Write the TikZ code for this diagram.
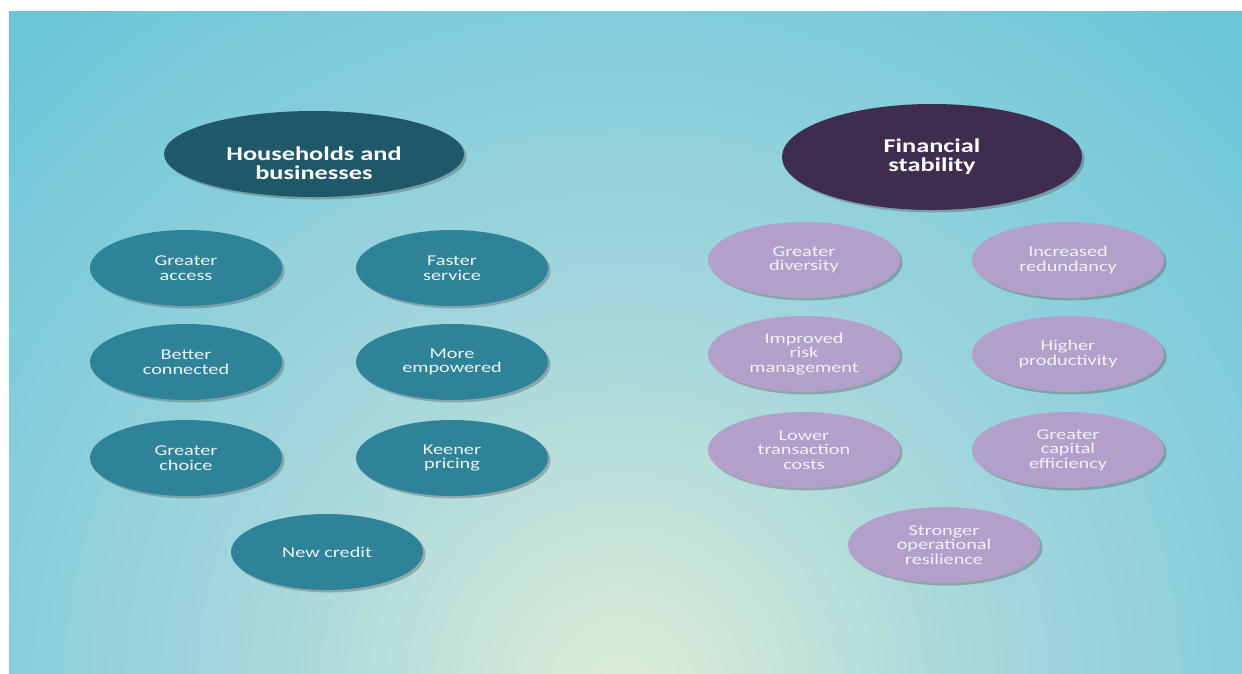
\documentclass[tikz,border=0pt]{standalone}
\usepackage{fontspec}
\setmainfont{Carlito}[FakeStretch=1.35]
\usetikzlibrary{shapes.geometric,shadows}
\definecolor{bgpale}{HTML}{DCEDD6}
\definecolor{bgmid}{HTML}{A6D7DC}
\definecolor{bgcyan}{HTML}{6BC6D9}
\definecolor{darkteal}{HTML}{1F5868}
\definecolor{darkplum}{HTML}{3F2D4F}
\definecolor{teal}{HTML}{2E8399}
\definecolor{lilac}{HTML}{B29FCA}
\definecolor{labelwhite}{HTML}{EEF4F5}
\pgfdeclareradialshading{bgshade}{\pgfpoint{0bp}{0bp}}{color(0bp)=(bgpale); color(9bp)=(bgmid); color(22bp)=(bgcyan); color(50bp)=(bgcyan)}
\tikzset{
  oval/.style={ellipse, inner sep=0pt, align=center,
    drop shadow={shadow xshift=2.5pt, shadow yshift=-2.5pt, opacity=0.35, fill=black!70}},
  titlefont/.style={font=\bfseries\fontsize{19.5}{19}\selectfont, text=white, align=center},
  titleoval/.style={oval, minimum width=300pt, titlefont},
  smalloval/.style={oval, minimum width=192pt, minimum height=76pt, font=\fontsize{15}{14.5}\selectfont, text=labelwhite},
  tealoval/.style={smalloval, fill=teal},
  lilacoval/.style={smalloval, fill=lilac},
}
\begin{document}
\begin{tikzpicture}[x=1pt,y=-1pt]
\useasboundingbox (0,0) rectangle (1242,673);
\fill[white] (0,0) rectangle (1242,673);
\begin{scope}
\clip (9,11) rectangle (1242,673);
\shade[shading=bgshade] (622,690) circle (1000pt);
\end{scope}
% left group
\node[titleoval, fill=darkteal, minimum height=86pt] (hb) at (314,154) {};
\node[titlefont] (hbtext) at (314,163) {Households and\\businesses};
\node[tealoval] (ga) at (186,268) {Greater\\access};
\node[tealoval] (fs) at (452,268) {Faster\\service};
\node[tealoval] (bc) at (186,362) {Better\\connected};
\node[tealoval] (me) at (452,362) {More\\empowered};
\node[tealoval] (gc) at (186,458) {Greater\\choice};
\node[tealoval] (kp) at (452,458) {Keener\\pricing};
\node[tealoval] (nc) at (327,552) {New credit};
% right group
\node[titleoval, fill=darkplum, minimum height=106pt] (fst) at (932,157) {Financial\\stability};
\node[lilacoval] (gd) at (804,260) {Greater\\diversity};
\node[lilacoval] (ir) at (1068,260) {Increased\\redundancy};
\node[lilacoval] (rm) at (804,354) {Improved\\risk\\management};
\node[lilacoval] (hp) at (1068,354) {Higher\\productivity};
\node[lilacoval] (tc) at (804,450) {Lower\\transaction\\costs};
\node[lilacoval] (ce) at (1068,450) {Greater\\capital\\efficiency};
\node[lilacoval] (or) at (944,545) {Stronger\\operational\\resilience};
\end{tikzpicture}
\end{document}
